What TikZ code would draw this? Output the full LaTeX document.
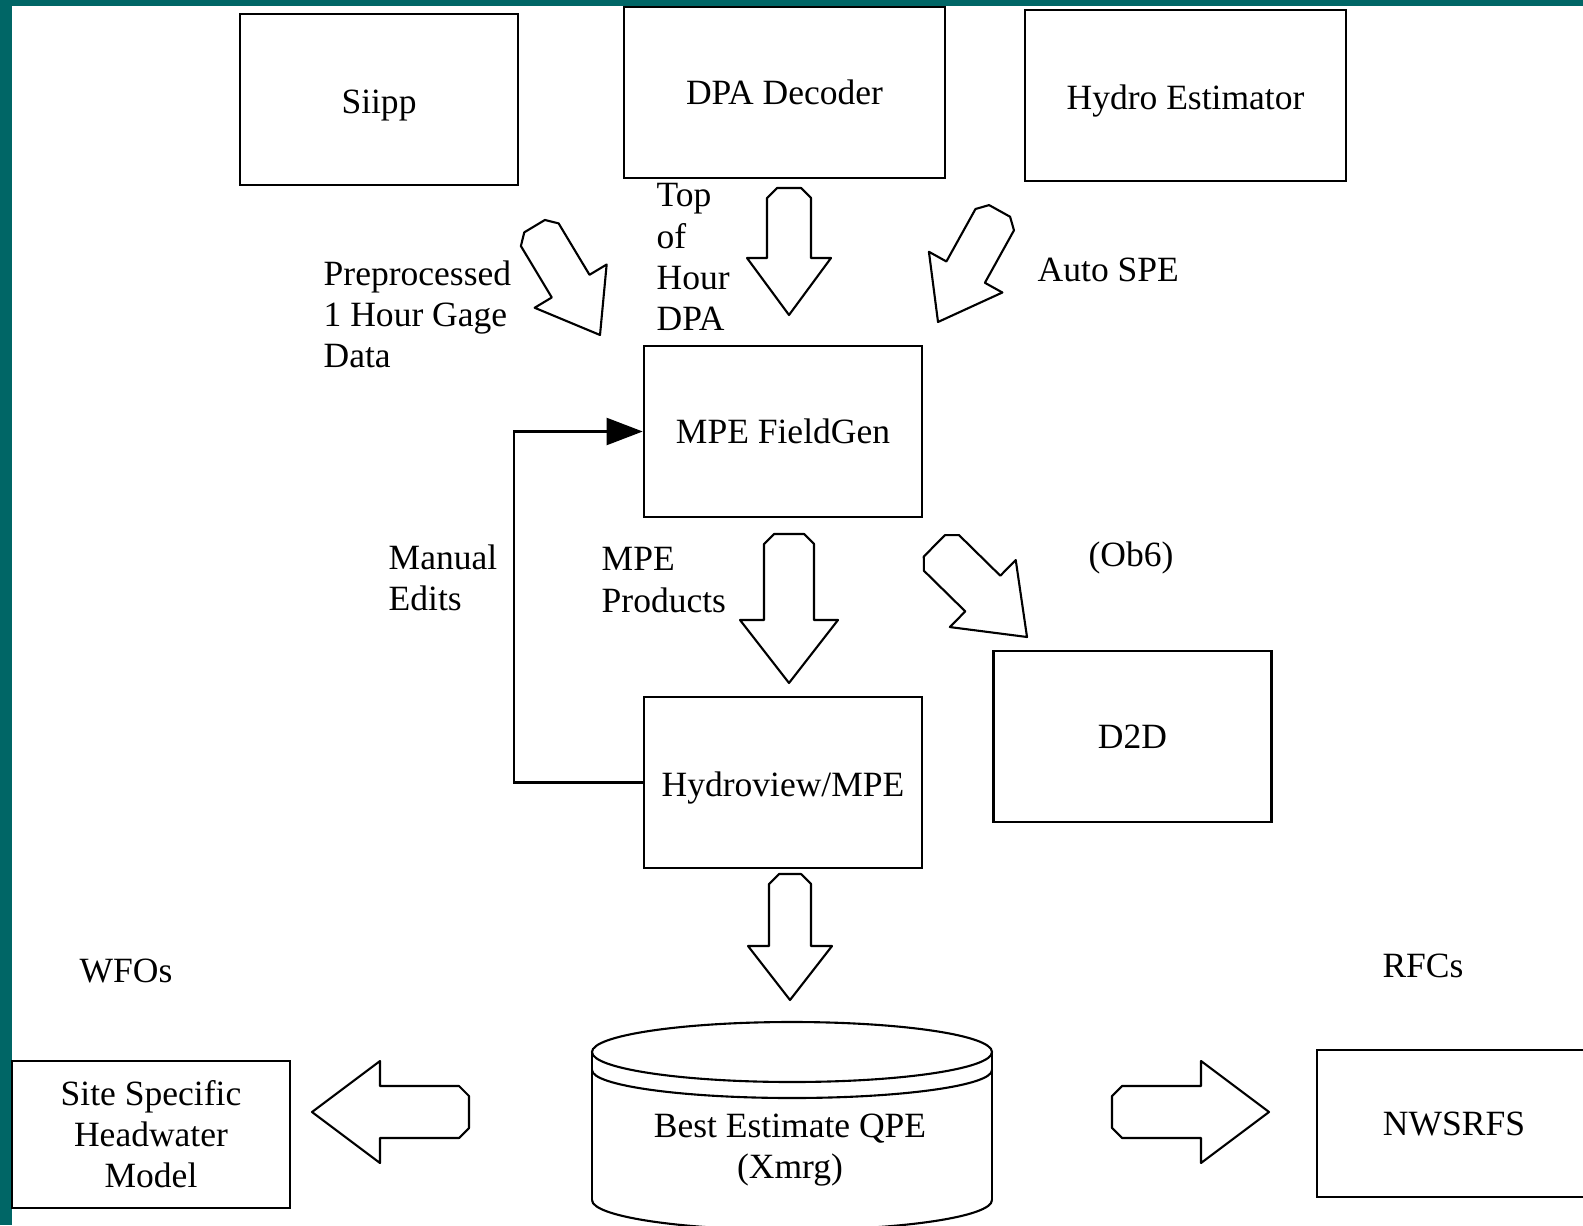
\documentclass[tikz,border=0pt]{standalone}
\usepackage{fontspec}
\setmainfont{Liberation Serif}
\usepackage{tikz}
\usetikzlibrary{arrows.meta}

\definecolor{slideteal}{RGB}{0,102,102}

\begin{document}
\begin{tikzpicture}[x=0.01cm, y=-0.01cm,
    every node/.style={font=\fontsize{10.1}{11.7}\selectfont},
    box/.style={draw, line width=0.7pt, minimum width=2.78cm, minimum height=1.71cm, align=center},
    widebox/.style={box, minimum width=3.21cm},
    lowbox/.style={box, minimum height=1.47cm},
    lbl/.style={anchor=west, align=left, inner sep=0pt},
    arrowline/.style={draw, line width=0.6pt, line join=round},
    pics/blockarrow/.style n args={4}{code={
        % tip at the origin, tail at -#1, pointing along +x
        \draw[arrowline] (0,0) -- (-#4,#3) -- (-#4,#2) -- (-#1+10,#2) -- (-#1,#2-10)
            -- (-#1,-#2+10) -- (-#1+10,-#2) -- (-#4,-#2) -- (-#4,-#3) -- cycle;
    }}]

    \useasboundingbox (0,0) rectangle (1583,1225);

    % Slide frame
    \fill[slideteal] (0,0) rectangle (12,1225);
    \fill[slideteal] (0,0) rectangle (1583,6);

    % Sources
    \node[box, text height=10pt] (siipp) at (379,99.5) {Siipp};
    \node[widebox] (dpa) at (784.5,92.5) {DPA Decoder};
    \node[widebox, text height=10pt] (hydroest) at (1185.5,95.5) {Hydro Estimator};

    % Processing
    \node[box] (fieldgen) at (783,431.5) {MPE FieldGen};
    \node[box, text height=10pt] (hydroview) at (783,782.5) {Hydroview/MPE};
    \node[box] (d2d) at (1132.5,736.5) {D2D};

    % Users
    \node[lowbox] (headwater) at (151,1134.5) {Site Specific\\Headwater\\Model};
    \node[lowbox, minimum width=2.74cm] (nwsrfs) at (1454,1123.5) {NWSRFS};

    % Database cylinder
    \draw[line width=0.6pt] (792,1052) ellipse [x radius=200, y radius=30];
    \draw[line width=0.6pt] (592,1070) arc[start angle=180, end angle=0, x radius=200, y radius=28];
    \draw[line width=0.6pt] (592,1052) -- (592,1200);
    \draw[line width=0.6pt] (992,1052) -- (992,1200);
    \draw[line width=0.6pt] (592,1200) arc[start angle=180, end angle=0, x radius=200, y radius=30];
    \node[align=center] (qpe) at (790,1150) {Best Estimate QPE\\(Xmrg)};

    % Block arrows into FieldGen
    \pic[rotate=-59] at (600,335) {blockarrow={127}{22}{42}{57}};
    \pic[rotate=-90] at (789,315) {blockarrow={127}{22}{42}{57}};
    \pic[rotate=-119] at (938,322) {blockarrow={127}{22}{42}{57}};

    % Block arrows out of FieldGen and Hydroview
    \pic[rotate=-90] at (789,683) {blockarrow={149}{25}{49}{63}};
    \pic[rotate=-44.5] at (1027,637) {blockarrow={130}{25}{47}{62}};
    \pic[rotate=-90] at (790,1000) {blockarrow={126}{21}{42}{54}};

    % Block arrows to WFOs and RFCs
    \pic[rotate=180] at (312,1112) {blockarrow={157}{26}{51}{68}};
    \pic at (1269,1112) {blockarrow={157}{26}{51}{68}};

    % Manual edits loop
    \draw[line width=0.6pt, -{Triangle[length=3.6mm, width=2.7mm]}]
        (hydroview.west) -- ++(-129,0) |- (fieldgen.west);

    % Labels
    \node[lbl] (prelbl) at (323,314) {Preprocessed\\1 Hour Gage\\Data};
    \node[lbl] (toplbl) at (656,257) {Top\\of\\Hour\\DPA};
    \node[lbl] (spelbl) at (1037,270) {Auto SPE};
    \node[lbl] (editlbl) at (388,578) {Manual\\Edits};
    \node[lbl] (prodlbl) at (601,580) {MPE\\Products};
    \node (ob6lbl) at (1131,558) {(Ob6)};
    \node (wfolbl) at (126,971) {WFOs};
    \node (rfclbl) at (1423,966) {RFCs};

\end{tikzpicture}
\end{document}
